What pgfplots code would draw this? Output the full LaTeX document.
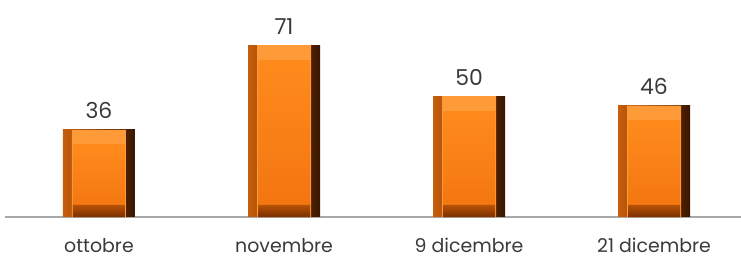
\documentclass[border=0pt]{standalone}
\usepackage{pgfplots}
\pgfplotsset{compat=1.18}
\usepackage{fontspec}
\setmainfont{Poppins}
\definecolor{txt}{HTML}{3A3A3A}
\definecolor{axisgray}{HTML}{A8A8A8}
\definecolor{edgeL}{HTML}{C85E0C}
\definecolor{edgeM}{HTML}{EC7612}
\definecolor{edgeR}{HTML}{3A1600}
\definecolor{topbev}{HTML}{FF9A38}
\definecolor{faceT}{HTML}{FF8A1C}
\definecolor{faceB}{HTML}{F27410}
\definecolor{botT}{HTML}{B85208}
\definecolor{botB}{HTML}{7A3000}
\pgfplotsset{
  outerbar/.style={bar shift=0pt, bar width=72bp, draw=none, left color=edgeL, middle color=edgeM, right color=edgeR,
    nodes near coords,
    every node near coord/.append style={font=\fontsize{22}{22}\selectfont, text=txt, anchor=base, inner sep=0pt, yshift=11bp}},
  topbar/.style={bar shift=0pt, bar width=54bp, draw=none, fill=topbev},
  facebar/.style={bar shift=0pt, bar width=52bp, draw=none, top color=faceT, bottom color=faceB},
  botbar/.style={bar shift=0pt, bar width=52bp, draw=none, top color=botT, bottom color=botB},
}
\begin{document}
\begin{tikzpicture}
\useasboundingbox (0,0) rectangle (741bp,258bp);
\begin{axis}[
  at={(5bp,41bp)}, anchor=south west,
  scale only axis, width=736bp, height=217bp,
  xmin=-0.508, xmax=3.47, ymin=0, ymax=89.7,
  axis y line=none, axis x line*=bottom,
  x axis line style={-, draw=axisgray, line width=1.5bp},
  xtick={0,1,2,3},
  xticklabels={ottobre, novembre, 9 dicembre, 21 dicembre},
  ytick=\empty, major tick length=0pt,
  xticklabel style={font=\fontsize{19}{19}\selectfont, text=txt, anchor=base, inner sep=0pt, yshift=-35bp},
  /pgf/number format/assume math mode=true,
  ybar, clip=false,
]
% outer bars (side bevels), one per bar so each gets its own shading
\addplot[outerbar] coordinates {(0,36)};
\addplot[outerbar] coordinates {(1,71)};
\addplot[outerbar] coordinates {(2,50)};
\addplot[outerbar] coordinates {(3,46)};
% top bevels
\addplot[topbar] coordinates {(0,36) (1,71) (2,50) (3,46)};
% inner faces
\addplot[facebar] coordinates {(0,29.8)};
\addplot[facebar] coordinates {(1,64.8)};
\addplot[facebar] coordinates {(2,43.8)};
\addplot[facebar] coordinates {(3,39.8)};
% bottom bevels
\addplot[botbar] coordinates {(0,5) (1,5) (2,5) (3,5)};
\end{axis}
\end{tikzpicture}
\end{document}
